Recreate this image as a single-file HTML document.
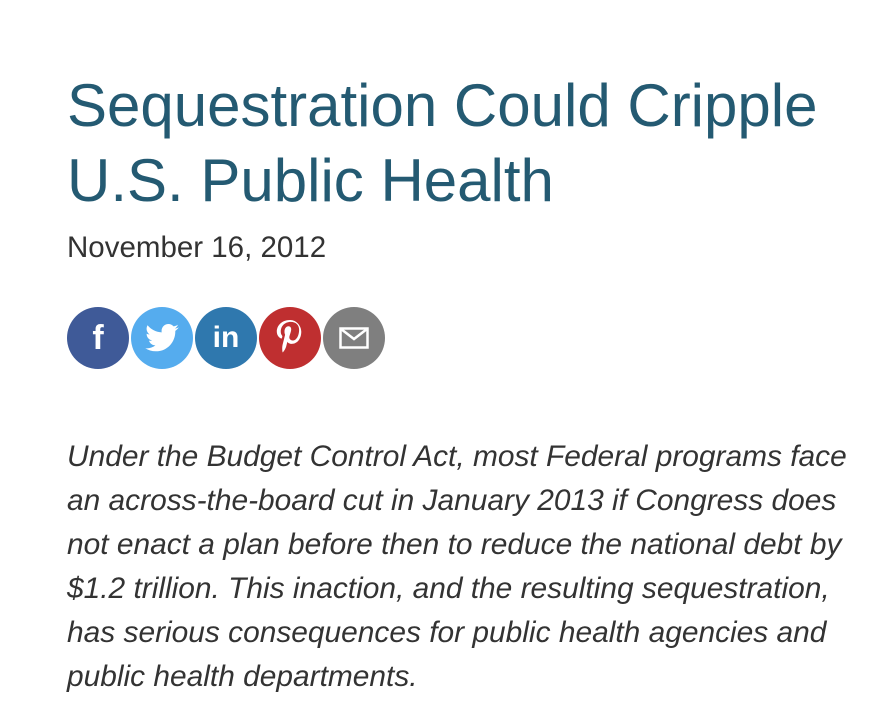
<!DOCTYPE html>
<html><head><meta charset="utf-8"><style>
html,body{margin:0;padding:0;background:#fff;width:892px;height:716px;overflow:hidden}
body{font-family:"Liberation Sans",Arial,sans-serif;position:relative}
h1{position:absolute;left:67px;top:68px;margin:0;font-weight:normal;font-size:60px;line-height:75px;color:#245a72;width:820px}
.date{position:absolute;left:67px;top:231px;font-size:29.5px;color:#333;margin:0}
.icons{position:absolute;left:67px;top:307px;height:62px}
.ic{position:absolute;top:0;width:62px;height:62px;border-radius:50%;display:flex;align-items:center;justify-content:center;color:#fff;font-weight:bold}
p.lead{position:absolute;left:67px;top:435px;margin:0;width:795px;font-style:italic;font-size:29.9px;line-height:44px;color:#333}
</style></head><body>
<h1>Sequestration Could Cripple U.S. Public Health</h1>
<p class="date">November 16, 2012</p>
<div class="icons">
<a class="ic" style="left:0;background:#3f5a98"><span style="font-size:34px;font-family:'Liberation Sans'">f</span></a>
<a class="ic" style="left:64px;background:#55acee"><svg width="34" height="28" viewBox="0 0 24 20"><path fill="#fff" d="M24 2.4c-.9.4-1.8.7-2.8.8 1-.6 1.8-1.6 2.2-2.7-1 .6-2 1-3.1 1.2C19.3.7 18 0 16.6 0c-2.7 0-4.9 2.2-4.9 4.9 0 .4 0 .8.1 1.1C7.7 5.8 4.1 3.9 1.7.9c-.4.7-.7 1.6-.7 2.5 0 1.7.9 3.2 2.2 4.1-.8 0-1.6-.2-2.2-.6v.1c0 2.4 1.7 4.4 3.9 4.8-.4.1-.8.2-1.3.2-.3 0-.6 0-.9-.1.6 2 2.4 3.4 4.6 3.4-1.7 1.3-3.8 2.1-6.1 2.1-.4 0-.8 0-1.2-.1 2.2 1.4 4.8 2.2 7.5 2.2 9.1 0 14-7.5 14-14v-.6c1-.7 1.8-1.6 2.5-2.5z"/></svg></a>
<a class="ic" style="left:128px;background:#2f78ae"><span style="font-size:30px">in</span></a>
<a class="ic" style="left:192px;background:#bf2f30"><svg width="30" height="36" viewBox="0 0 24 30"><path fill="#fff" d="M12 0C5 0 1 4.8 1 9.6c0 2.6 1.4 5 3.6 5.8.4.1.6 0 .7-.4l.3-1.2c.1-.4 0-.5-.2-.8-.7-.8-1.1-1.9-1.1-3.3 0-4.3 3.2-8.1 8.3-8.1 4.5 0 7 2.8 7 6.5 0 4.9-2.2 9-5.4 9-1.8 0-3.1-1.5-2.7-3.3.5-2.1 1.5-4.4 1.5-6 0-1.4-.8-2.6-2.3-2.6-1.8 0-3.3 1.9-3.3 4.4 0 1.6.5 2.7.5 2.7L5.8 20.7c-.6 2.6-.1 5.8 0 6.1 0 .2.3.2.4.1.1-.2 2-2.5 2.6-4.8l1-4c.5 1 2 1.8 3.6 1.8 4.8 0 8-4.4 8-10.2C21.4 5.2 17.6 0 12 0z"/></svg></a>
<a class="ic" style="left:256px;background:#7f7f7f"><svg width="30" height="22" viewBox="0 0 30 22"><rect x="1.5" y="1.5" width="27" height="19" fill="none" stroke="#fff" stroke-width="2.5"/><path d="M2 2l13 10 13-10" fill="none" stroke="#fff" stroke-width="2.5"/></svg></a>
</div>
<p class="lead">Under the Budget Control Act, most Federal programs face an across-the-board cut in January 2013 if Congress does not enact a plan before then to reduce the national debt by $1.2 trillion. This inaction, and the resulting sequestration, has serious consequences for public health agencies and public health departments.</p>
</body></html>
